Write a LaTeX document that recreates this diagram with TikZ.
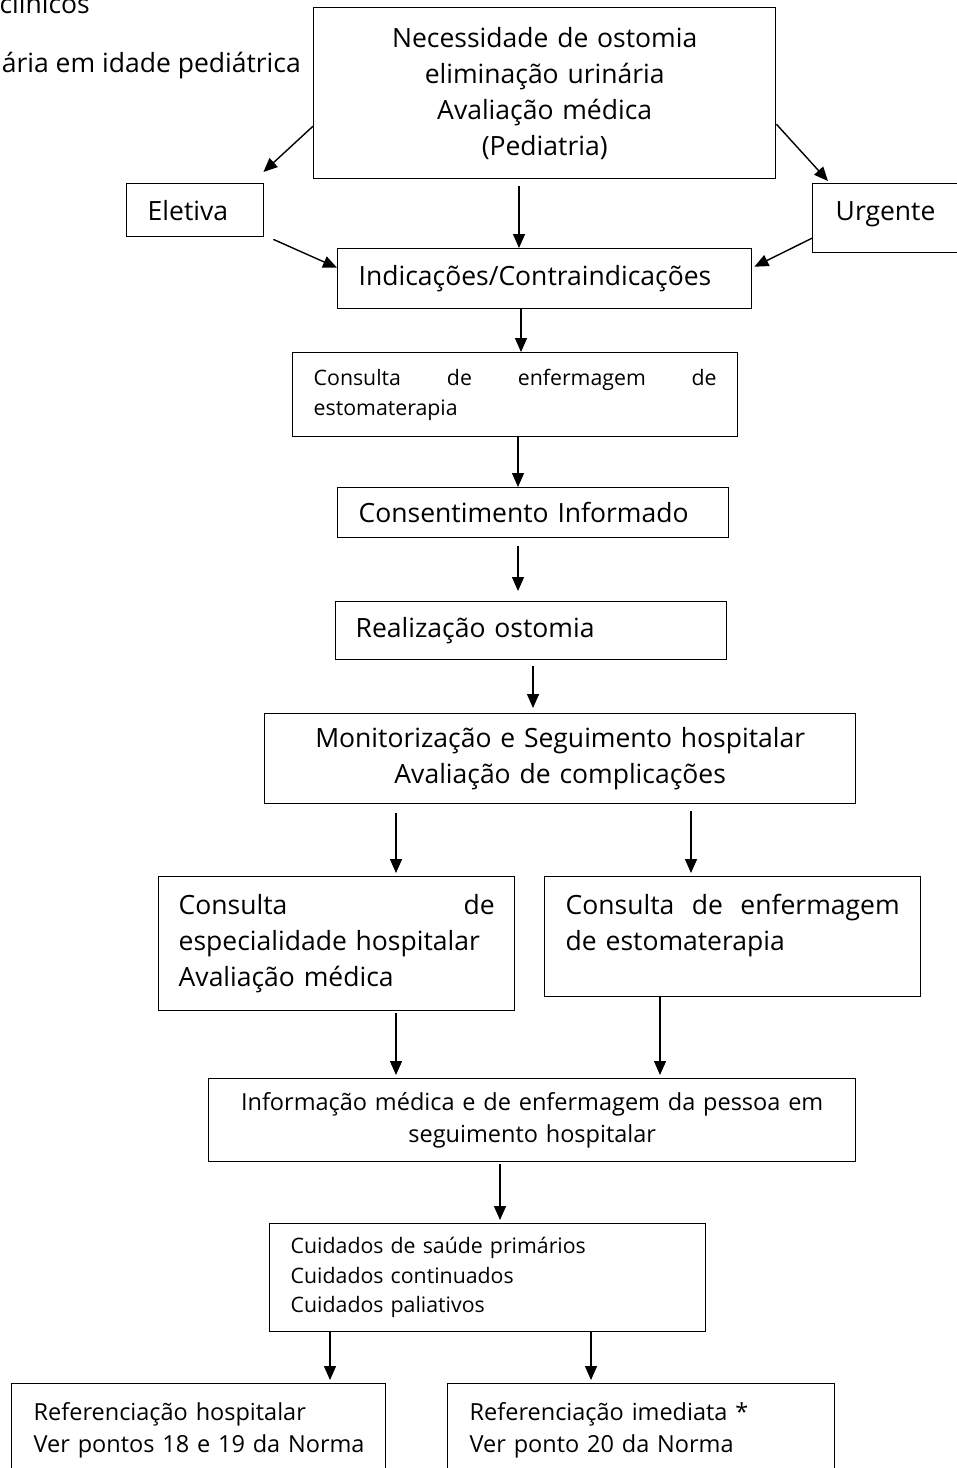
\documentclass[tikz,border=0pt]{standalone}
\usepackage{fontspec}
\setmainfont{Open Sans}
\usetikzlibrary{arrows.meta}

\begin{document}
\begin{tikzpicture}[x=1pt,y=1pt,
    >={Triangle[length=14pt,width=12pt]},
    box/.style={draw,line width=1.4pt,anchor=north west,inner xsep=21pt,inner ysep=0pt,align=left},
    big/.style={font=\fontsize{26.5}{36}\selectfont},
    mid/.style={font=\fontsize{23.5}{32}\selectfont},
    small/.style={font=\fontsize{21.3}{29.5}\selectfont},
    arr/.style={line width=1.4pt,->}]
            \useasboundingbox (0,0) rectangle (957,-1468);
            \clip (0,0) rectangle (957,-1468);

            \node[big,anchor=base east,inner sep=0pt] (tit1) at (90,-13) {clínicos};
            \node[big,anchor=base east,inner sep=0pt] (tit2) at (301,-72) {ária em idade pediátrica};

            \node[box,big,align=center,text width=420pt,minimum height=171pt] (necess) at (313,-7)
                {Necessidade de ostomia\\eliminação urinária\\Avaliação médica\\(Pediatria)};
            \node[box,big,text width=95pt,minimum height=53pt] (eletiva) at (126,-183) {Eletiva};
            \node[box,big,inner xsep=23pt,text width=115pt,minimum height=69pt] (urgente) at (812,-183) {Urgente\\[-22pt]\mbox{}};
            \node[box,big,text width=372pt,minimum height=60pt] (indic) at (337,-248) {Indicações/Contraindicações};
            \node[box,small,text width=403pt,minimum height=84pt] (consenf1) at (292,-352)
                {Consulta\hfill de\hfill enfermagem\hfill de\\estomaterapia};
            \node[box,big,text width=349pt,minimum height=50pt] (consent) at (337,-487) {Consentimento Informado};
            \node[box,big,inner xsep=20pt,text width=351pt,minimum height=58pt] (realiz) at (335,-601) {Realização ostomia};
            \node[box,big,align=center,text width=549pt,minimum height=90pt] (monit) at (264,-713)
                {Monitorização e Seguimento hospitalar\\Avaliação de complicações};
            \node[box,big,inner xsep=20pt,text width=316pt,minimum height=134pt] (consesp) at (158,-876)
                {Consulta\hfill de\\especialidade hospitalar\\Avaliação médica};
            \node[box,big,text width=334pt,minimum height=120pt] (consenf2) at (544,-876)
                {Consulta\hfill de\hfill enfermagem\\de estomaterapia\\[-8pt]\mbox{}};
            \node[box,mid,align=center,text width=605pt,minimum height=83pt] (inform) at (208,-1078)
                {Informação médica e de enfermagem da pessoa em\\seguimento hospitalar};
            \node[box,small,text width=394pt,minimum height=108pt] (cuidados) at (269,-1223)
                {Cuidados de saúde primários\\Cuidados continuados\\Cuidados paliativos};
            \node[box,mid,inner xsep=22pt,text width=330pt,minimum height=94pt] (refhosp) at (11,-1383)
                {\mbox{Referenciação hospitalar}\\\mbox{Ver pontos 18 e 19 da Norma}};
            \node[box,mid,inner xsep=22pt,text width=343pt,minimum height=94pt] (refimed) at (447,-1383)
                {\mbox{Referenciação imediata *}\\\mbox{Ver ponto 20 da Norma}};

            \draw[arr] ([yshift=-33pt]necess.west) -- ([xshift=-1pt,yshift=11pt]eletiva.north east);
            \draw[arr] ([yshift=-31pt]necess.east) -- ([xshift=16pt,yshift=2pt]urgente.north west);
            \draw[arr,shorten <=7pt] (necess.south -| 519,0) -- (indic.north -| 519,0);
            \draw[arr] ([xshift=9pt,yshift=-2pt]eletiva.south east) -- ([yshift=11pt]indic.west);
            \draw[arr] ([yshift=-20pt]urgente.west) -- ([xshift=2pt,yshift=12pt]indic.east);
            \draw[arr] (indic.south -| 521,0) -- (consenf1.north -| 521,0);
            \draw[arr] (consenf1.south -| 518,0) -- (consent.north -| 518,0);
            \draw[arr,shorten <=8pt,shorten >=10pt] (consent.south -| 518,0) -- (realiz.north -| 518,0);
            \draw[arr,shorten <=6pt,shorten >=5pt] (realiz.south -| 533,0) -- (monit.north -| 533,0);
            \draw[arr,shorten <=9pt,shorten >=3pt] (monit.south -| 396,0) -- (consesp.north -| 396,0);
            \draw[arr,shorten <=7pt,shorten >=3pt] (monit.south -| 691,0) -- (consenf2.north -| 691,0);
            \draw[arr,shorten <=2pt,shorten >=3pt] (consesp.south -| 396,0) -- (inform.north -| 396,0);
            \draw[arr,shorten >=3pt] (consenf2.south -| 660,0) -- (inform.north -| 660,0);
            \draw[arr,shorten <=2pt,shorten >=3pt] (inform.south -| 500,0) -- (cuidados.north -| 500,0);
            \draw[arr,shorten >=3pt] (cuidados.south -| 330,0) -- (refhosp.north -| 330,0);
            \draw[arr,shorten >=3pt] (cuidados.south -| 591,0) -- (refimed.north -| 591,0);

\end{tikzpicture}
\end{document}
